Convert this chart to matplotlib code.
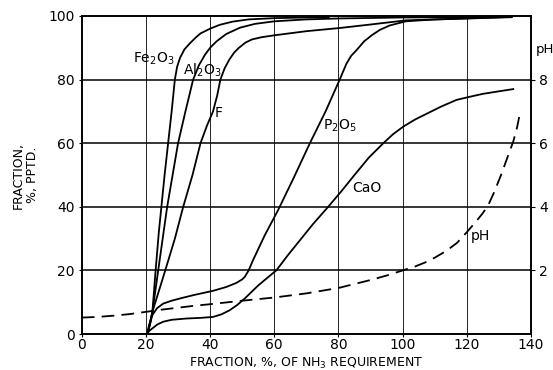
import matplotlib
matplotlib.use("Agg")
import matplotlib.pyplot as plt

# ---------------- data ----------------
fe_x = [20.5, 21.5, 22, 23, 24, 24.8, 25.8, 26.9, 28, 29.0, 29.7, 30.6, 32, 33.7, 35.5, 37, 40, 43, 47, 52, 60, 70, 77]
fe_y = [0, 4, 7, 20, 32, 40, 50, 60, 70, 80, 84, 86.8, 89.5, 91.4, 93.2, 94.5, 96.0, 97.2, 98.2, 98.9, 99.3, 99.5, 99.6]

al_x = [20.5, 22, 24.5, 26.6, 28.3, 30.0, 32.3, 34.7, 36.5, 38.4, 40, 42, 45, 49.3, 54, 60, 70, 80, 100, 134]
al_y = [0, 7, 25, 40, 50, 60, 70, 80, 84.5, 87.8, 90, 92.0, 94.3, 96.3, 97.5, 98.3, 98.9, 99.2, 99.5, 99.7]

f_x = [20.5, 22, 26, 29, 31.6, 34.5, 37.0, 39, 40.9, 42.2, 43.2, 44.5, 46, 47.5, 49, 51, 53, 56, 60,
       70, 80.4, 90, 101, 134]
f_y = [0, 7, 20, 30, 40, 50, 60, 65.5, 70, 75, 80, 83.5, 86.3, 88.5, 90, 91.6, 92.6, 93.3, 93.9,
       95.2, 96.2, 97.3, 98.6, 99.6]

p_x = [20.3, 21, 22, 23.5, 25.4, 28, 30.6, 35, 40.9, 45, 48.2, 50, 50.8, 52, 53.4, 57, 61.2, 66, 71.1,
       76, 80.4, 82.5, 84, 85.7, 88, 90.5, 92.9, 96, 101, 110, 134]
p_y = [0, 3, 6, 8.2, 9.6, 10.5, 11.2, 12.3, 13.6, 14.8, 16.1, 17.2, 18.0, 20, 23.3, 31, 39, 49, 60,
       70, 80, 85, 87.5, 89.3, 92, 94, 95.6, 97, 98.3, 98.9, 99.7]

ca_x = [20.3, 21, 22, 23.5, 25.4, 28, 32.6, 37, 40.9, 43.5, 46.1, 48.5, 50.8, 55, 60.7, 64, 68, 72,
        76.8, 81, 85, 89.5, 94, 97, 100.2, 104, 108, 112, 116.8, 121, 125, 130, 134.5]
ca_y = [0, 1, 1.8, 3, 3.9, 4.5, 4.9, 5.1, 5.4, 6.2, 7.5, 9.2, 11.2, 15.3, 20.1, 24.5, 29.5, 34.5,
        40, 45, 50, 55.5, 60, 62.8, 65.2, 67.5, 69.5, 71.5, 73.6, 74.6, 75.5, 76.3, 77]

ph_x = [0, 5, 10, 15, 20, 25, 30, 35, 40, 50, 60, 70, 80, 90, 95, 100, 104, 107, 110, 113.7, 117,
        120, 123, 125, 126.7, 128.5, 130.5, 132.5, 134.5, 135.7, 136.6]
ph_y = [0.52, 0.54, 0.58, 0.63, 0.70, 0.77, 0.83, 0.89, 0.94, 1.05, 1.15, 1.28, 1.45, 1.70, 1.84,
        2.00, 2.13, 2.25, 2.40, 2.62, 2.87, 3.20, 3.55, 3.80, 4.05, 4.45, 4.95, 5.50, 6.05, 6.50, 6.95]

x_ticks = [0, 20, 40, 60, 80, 100, 120, 140]
y_ticks = [0, 20, 40, 60, 80, 100]
ph_ticks = [2, 4, 6, 8]

# ---------------- figure ----------------
fig = plt.figure(figsize=(5.53, 3.70), dpi=100)
ax = fig.add_axes([0.148, 0.097, 0.812, 0.860])

ax.set_xlim(0, 140)
ax.set_ylim(0, 100)

# grid: thin verticals, heavier horizontals
for xv in x_ticks[1:-1]:
    ax.axvline(xv, color="black", lw=0.6, zorder=1)
for yv in y_ticks[1:-1]:
    ax.axhline(yv, color="black", lw=1.1, zorder=1)

lw = 1.3
for xs, ys in [(fe_x, fe_y), (al_x, al_y), (f_x, f_y), (p_x, p_y), (ca_x, ca_y)]:
    ax.plot(xs, ys, color="black", lw=lw, solid_joinstyle="round")

ax2 = ax.twinx()
ax2.set_ylim(0, 10)
ax2.plot(ph_x, ph_y, color="black", lw=lw, dashes=(7, 4))
ax2.set_yticks(ph_ticks)
ax2.set_yticklabels([str(t) for t in ph_ticks], fontsize=10)
ax2.tick_params(axis="y", length=3, pad=3)

ax.set_xticks(x_ticks)
ax.set_yticks(y_ticks)
ax.set_xticklabels([str(t) for t in x_ticks], fontsize=10)
ax.set_yticklabels([str(t) for t in y_ticks], fontsize=10)
ax.tick_params(axis="y", length=2, pad=3)
ax.tick_params(axis="x", length=2, pad=1)

for a in (ax, ax2):
    for s in a.spines.values():
        s.set_linewidth(1.2)

ax.set_xlabel("FRACTION, %, OF NH$_3$ REQUIREMENT", fontsize=9)
ax.xaxis.set_label_coords(0.5, -0.068)
ax.set_ylabel("FRACTION,\n%, PPTD.", fontsize=9, labelpad=7, linespacing=1.1)

# curve labels
tk = dict(fontsize=10, color="black")
ax.text(28.8, 86.5, "Fe$_2$O$_3$", ha="right", va="center", **tk)
ax.text(37.4, 82.8, "Al$_2$O$_3$", ha="center", va="center", **tk)
ax.text(41.3, 69.5, "F", ha="left", va="center", **tk)
ax.text(80.4, 65.4, "P$_2$O$_5$", ha="center", va="center", **tk)
ax.text(88.9, 45.8, "CaO", ha="center", va="center", **tk)
ax.text(124.4, 30.8, "pH", ha="center", va="center", **tk)
ax.text(141.6, 89.6, "pH", ha="left", va="center", clip_on=False, fontsize=9.5)

fig.savefig("out.png", dpi=100)
